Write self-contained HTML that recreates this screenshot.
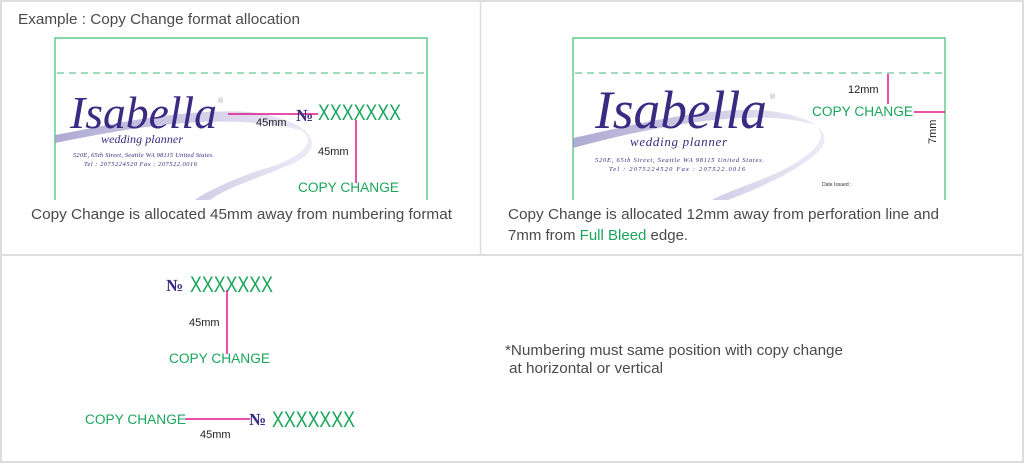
<!DOCTYPE html>
<html><head><meta charset="utf-8"><style>
html,body{margin:0;padding:0;background:#fff;}
svg{display:block;font-family:"Liberation Sans",sans-serif;}
.s{font-family:"Liberation Serif",serif;font-style:italic;fill:#3b2a82;}
.g{fill:#1aa65a;}
.t{fill:#4a4a4a;font-size:15px;}
.m{fill:#222;font-size:11px;}
</style></head><body>
<svg width="1024" height="464" viewBox="0 0 1024 464">
<defs>
<linearGradient id="sw" x1="0" y1="0" x2="1" y2="0">
<stop offset="0" stop-color="#9b94c8"/><stop offset="1" stop-color="#e8e6f4"/></linearGradient>
</defs>
<rect x="1" y="1" width="1022" height="461" fill="none" stroke="#ddd" stroke-width="2"/>
<line x1="0" y1="255" x2="1024" y2="255" stroke="#ddd" stroke-width="2"/>
<line x1="480.5" y1="0" x2="480.5" y2="255" stroke="#ddd" stroke-width="1.5"/>

<text x="18" y="24" class="t" textLength="282" lengthAdjust="spacingAndGlyphs">Example : Copy Change format allocation</text>

<!-- left card -->
<path d="M55,200 L55,38 L427,38 L427,200" fill="none" stroke="#3cc070" stroke-width="1.2"/>
<line x1="57" y1="73" x2="425" y2="73" stroke="#3cb878" stroke-width="1" stroke-dasharray="7,5"/>
<path d="M55,143 C120,130 220,110 300,130 C320,140 300,160 260,170 C230,180 200,195 195,200 L210,200 C230,185 270,175 300,160 C330,140 300,118 250,112 C180,108 110,125 55,135 Z" fill="url(#sw)" opacity="0.8"/>
<text x="70" y="128" class="s" font-size="46" textLength="147" lengthAdjust="spacingAndGlyphs">Isabella</text>
<text x="218" y="103" fill="#999" font-size="7">®</text>
<text x="101" y="143" class="s" font-size="12" textLength="82">wedding planner</text>
<text x="73" y="157" class="s" font-size="6.5" textLength="141">520E, 65th Street, Seattle WA 98115 United States.</text>
<text x="84" y="166" class="s" font-size="6.5" textLength="113">Tel : 2075224520   Fax : 207522.0016</text>
<line x1="228" y1="114" x2="318" y2="114" stroke="#e0158c" stroke-width="1.5"/>
<text x="296" y="121" font-family="Liberation Serif,serif" font-weight="bold" fill="#3b2a82" font-size="17">№</text>
<text x="318" y="120" class="g" font-size="22" textLength="83" lengthAdjust="spacingAndGlyphs">XXXXXXX</text>
<line x1="356" y1="120" x2="356" y2="183" stroke="#e0158c" stroke-width="1.5"/>
<text x="256" y="126" class="m">45mm</text>
<text x="318" y="155" class="m">45mm</text>
<text x="298" y="192" class="g" font-size="13.5" textLength="101" lengthAdjust="spacingAndGlyphs">COPY CHANGE</text>
<text x="31" y="219" class="t" textLength="421" lengthAdjust="spacingAndGlyphs">Copy Change is allocated 45mm away from numbering format</text>

<!-- right card -->
<path d="M573,200 L573,38 L945,38 L945,200" fill="none" stroke="#3cc070" stroke-width="1.2"/>
<line x1="575" y1="73" x2="943" y2="73" stroke="#3cb878" stroke-width="1" stroke-dasharray="7,5"/>
<path d="M573,148 C640,130 750,105 815,125 C835,140 800,165 760,180 C740,188 720,195 712,200 L728,200 C760,188 800,170 820,150 C840,125 790,108 740,110 C680,112 620,128 573,138 Z" fill="url(#sw)" opacity="0.8"/>
<text x="595" y="128" class="s" font-size="54" textLength="172" lengthAdjust="spacingAndGlyphs">Isabella</text>
<text x="770" y="99" fill="#999" font-size="7">®</text>
<text x="630" y="146" class="s" font-size="13" textLength="97">wedding planner</text>
<text x="595" y="162" class="s" font-size="6.5" textLength="169">520E, 65th Street, Seattle WA 98115 United States.</text>
<text x="609" y="171" class="s" font-size="6.5" textLength="136">Tel : 2075224520   Fax : 207522.0016</text>
<text x="822" y="186" fill="#333" font-size="5">Date Issued :</text>
<line x1="888" y1="74" x2="888" y2="104" stroke="#e0158c" stroke-width="1.5"/>
<text x="848" y="93" class="m">12mm</text>
<text x="812" y="116" class="g" font-size="13.5" textLength="101" lengthAdjust="spacingAndGlyphs">COPY CHANGE</text>
<line x1="914" y1="112" x2="945" y2="112" stroke="#e0158c" stroke-width="1.5"/>
<text x="0" y="0" class="m" transform="translate(936,144) rotate(-90)">7mm</text>
<text x="508" y="219" class="t" textLength="431" lengthAdjust="spacingAndGlyphs">Copy Change is allocated 12mm away from perforation line and</text>
<text x="508" y="240" class="t">7mm from <tspan class="g">Full Bleed</tspan> edge.</text>

<!-- bottom -->
<text x="166" y="291" font-family="Liberation Serif,serif" font-weight="bold" fill="#3b2a82" font-size="17">№</text>
<text x="190" y="292" class="g" font-size="22" textLength="83" lengthAdjust="spacingAndGlyphs">XXXXXXX</text>
<line x1="227" y1="290" x2="227" y2="354" stroke="#e0158c" stroke-width="1.5"/>
<text x="189" y="326" class="m">45mm</text>
<text x="169" y="363" class="g" font-size="13.5" textLength="101" lengthAdjust="spacingAndGlyphs">COPY CHANGE</text>
<text x="85" y="424" class="g" font-size="13.5" textLength="101" lengthAdjust="spacingAndGlyphs">COPY CHANGE</text>
<line x1="185" y1="419" x2="250" y2="419" stroke="#e0158c" stroke-width="1.5"/>
<text x="249" y="425" font-family="Liberation Serif,serif" font-weight="bold" fill="#3b2a82" font-size="17">№</text>
<text x="272" y="427" class="g" font-size="22" textLength="83" lengthAdjust="spacingAndGlyphs">XXXXXXX</text>
<text x="200" y="438" class="m">45mm</text>
<text x="505" y="355" class="t" textLength="338" lengthAdjust="spacingAndGlyphs">*Numbering must same position with copy change</text>
<text x="509" y="373" class="t" textLength="154" lengthAdjust="spacingAndGlyphs">at horizontal or vertical</text>
</svg>
</body></html>
